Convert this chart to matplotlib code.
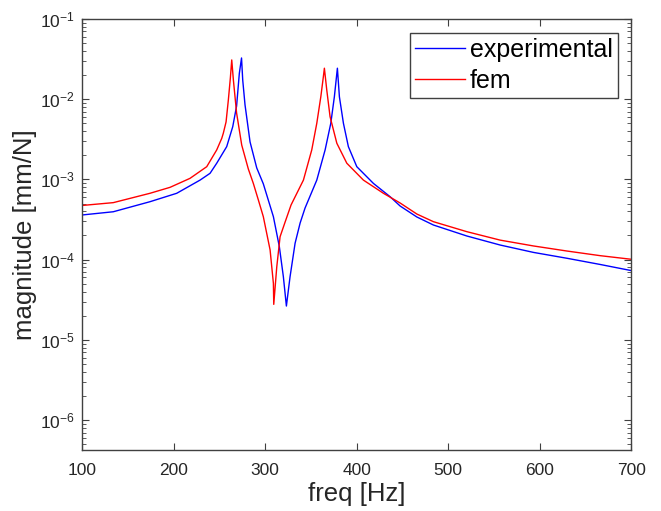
#!/usr/bin/env python3
"""Frequency response magnitude: experimental vs fem."""

import matplotlib

matplotlib.use("Agg")
import matplotlib.pyplot as plt
from matplotlib.ticker import LogLocator, NullFormatter


# values
exp_freq = [
    100.0, 134.2, 174.3, 203.5, 229.0, 239.9, 247.2, 258.1, 264.7, 268.9,
    271.9, 274.3, 275.6, 278.1, 283.6, 290.9, 298.1, 309.1, 315.6, 320.0,
    323.3, 327.3, 332.8, 338.3, 343.7, 356.5, 365.6, 371.8, 375.7, 379.0,
    381.2, 385.6, 391.0, 400.2, 418.4, 436.6, 447.5, 465.8, 483.9, 520.4,
    556.8, 593.2, 629.7, 666.1, 700.0,
]
exp_mag = [
    3.60e-4, 3.95e-4, 5.27e-4, 6.71e-4, 9.8e-4, 1.19e-3, 1.59e-3, 2.56e-3, 4.54e-3, 8.2e-3,
    2.10e-2, 3.26e-2, 1.73e-2, 8.5e-3, 2.93e-3, 1.39e-3, 8.8e-4, 3.43e-4, 1.45e-4, 6.12e-5,
    2.64e-5, 6.12e-5, 1.60e-4, 2.86e-4, 4.40e-4, 9.8e-4, 2.33e-3, 5.0e-3, 1.07e-2, 2.43e-2,
    1.07e-2, 5.0e-3, 2.56e-3, 1.44e-3, 8.9e-4, 6.08e-4, 4.66e-4, 3.4e-4, 2.70e-4, 1.97e-4,
    1.52e-4, 1.23e-4, 1.04e-4, 8.7e-5, 7.3e-5,
]

fem_freq = [
    100.0, 134.2, 174.3, 196.2, 218.0, 236.3, 247.2, 252.7, 254.4, 257.4,
    259.9, 262.1, 263.6, 265.4, 268.9, 274.5, 281.7, 287.2, 292.7, 298.1,
    305.5, 309.1, 309.5, 312.8, 316.4, 321.9, 328.4, 341.9, 351.0, 356.5,
    360.9, 363.7, 364.8, 367.4, 371.0, 378.4, 389.3, 407.4, 429.3, 447.5,
    465.8, 483.9, 520.4, 556.8, 593.2, 629.7, 666.1, 700.0,
]
fem_mag = [
    4.73e-4, 5.13e-4, 6.71e-4, 7.96e-4, 1.03e-3, 1.44e-3, 2.33e-3, 3.25e-3, 3.76e-3, 5.2e-3,
    9.77e-3, 1.84e-2, 3.08e-2, 1.73e-2, 6.73e-3, 2.68e-3, 1.35e-3, 8.9e-4, 5.53e-4, 3.43e-4,
    1.32e-4, 5.06e-5, 2.77e-5, 8.15e-5, 1.93e-4, 2.94e-4, 4.80e-4, 9.8e-4, 2.33e-3, 5.0e-3,
    1.07e-2, 1.91e-2, 2.43e-2, 1.30e-2, 6.05e-3, 2.82e-3, 1.59e-3, 9.8e-4, 6.71e-4, 5.08e-4,
    3.7e-4, 2.97e-4, 2.23e-4, 1.75e-4, 1.48e-4, 1.28e-4, 1.12e-4, 1.01e-4,
]

x_ticks = [100, 200, 300, 400, 500, 600, 700]

plt.rcParams["font.family"] = ["Liberation Sans", "DejaVu Sans"]
plt.rcParams["mathtext.fontset"] = "custom"
plt.rcParams["mathtext.rm"] = "Liberation Sans"
plt.rcParams["mathtext.it"] = "Liberation Sans"

fig = plt.figure(figsize=(6.61, 5.11), dpi=100)
ax = fig.add_axes([0.124, 0.119, 0.831, 0.844])

ax.plot(exp_freq, exp_mag, color="#0000ff", lw=1.0, label="experimental")
ax.plot(fem_freq, fem_mag, color="#ff0000", lw=1.0, label="fem")

ax.set_yscale("log")
ax.set_xlim(100, 700)
ax.set_ylim(10 ** -6.375, 1e-1)
ax.set_xticks(x_ticks)
ax.yaxis.set_major_locator(LogLocator(base=10, numticks=10))
ax.yaxis.set_minor_locator(LogLocator(base=10, subs=range(2, 10), numticks=20))
ax.yaxis.set_minor_formatter(NullFormatter())

edge = "#404040"
for side in ax.spines.values():
    side.set_color(edge)
    side.set_linewidth(1.0)
ax.tick_params(which="both", direction="in", top=True, right=True, color=edge)
ax.tick_params(which="major", length=5, labelsize=12.5, labelcolor="#262626")
ax.tick_params(axis="x", which="major", pad=9)
ax.tick_params(axis="y", which="major", pad=5)
ax.tick_params(which="minor", length=3)

ax.set_xlabel("freq [Hz]", fontsize=18.5, color="#262626", labelpad=3)
ax.set_ylabel("magnitude [mm/N]", fontsize=18.5, color="#262626", labelpad=2)

leg = ax.legend(loc="upper right", fontsize=18, handlelength=2.0,
                handletextpad=0.2, borderpad=0.2, labelspacing=0.3,
                fancybox=False, framealpha=1, borderaxespad=0.55)
leg.get_frame().set_edgecolor(edge)
leg.get_frame().set_linewidth(1.0)

fig.savefig("out.png", dpi=100)
